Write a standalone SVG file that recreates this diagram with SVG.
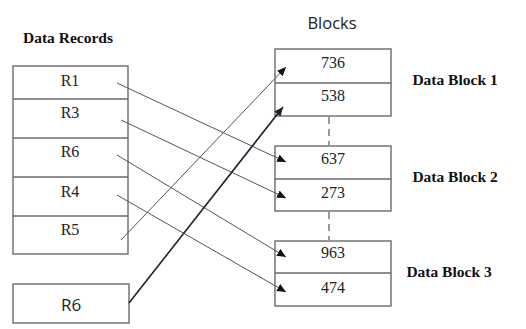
<svg xmlns="http://www.w3.org/2000/svg" width="526" height="329" viewBox="0 0 526 329">
<style>
.box{fill:#fff;stroke:#6a6a6a;stroke-width:1.4}
.div{stroke:#6a6a6a;stroke-width:1.4}
.cell{font-family:"Liberation Serif",serif;font-size:16px;fill:#222;text-anchor:middle}
.lbl{font-family:"Liberation Serif",serif;font-size:15.5px;font-weight:bold;fill:#111;text-anchor:middle}
.sans{font-family:"Open Sans","Liberation Sans",sans-serif;fill:#222;text-anchor:middle}
.conn{stroke:#555;stroke-width:1;fill:none;marker-end:url(#ah)}
.conn2{stroke:#1e2230;stroke-width:1.6;fill:none;marker-end:url(#ah2)}
.dash{stroke:#555;stroke-width:1.2;stroke-dasharray:7,5}
</style>
<defs>
<marker id="ah" markerUnits="userSpaceOnUse" markerWidth="10" markerHeight="8" refX="9" refY="4" orient="auto"><path d="M0,0 L9,4 L0,8 Z" fill="#111"/></marker>
<marker id="ah2" markerUnits="userSpaceOnUse" markerWidth="10" markerHeight="8" refX="9" refY="4" orient="auto"><path d="M0,0 L9,4 L0,8 Z" fill="#1e2230"/></marker>
</defs>
<rect width="526" height="329" fill="#fff"/>
<text class="lbl" x="68" y="43">Data Records</text>
<text class="sans" x="332" y="29" font-size="16.5">Blocks</text>
<g id="records">
<rect class="box" x="13" y="66" width="115" height="188"/>
<line class="div" x1="13" y1="99" x2="128" y2="99"/>
<line class="div" x1="13" y1="138" x2="128" y2="138"/>
<line class="div" x1="13" y1="177" x2="128" y2="177"/>
<line class="div" x1="13" y1="216" x2="128" y2="216"/>
<text class="cell" x="70" y="86">R1</text>
<text class="cell" x="70" y="118">R3</text>
<text class="cell" x="70" y="157">R6</text>
<text class="cell" x="70" y="197">R4</text>
<text class="cell" x="70" y="235">R5</text>
</g>
<g id="r6box">
<rect class="box" x="13" y="284" width="116" height="39"/>
<text class="sans" x="71" y="311" font-size="17">R6</text>
</g>
<g id="block1">
<rect class="box" x="275" y="49" width="116" height="67"/>
<line class="div" x1="275" y1="83" x2="391" y2="83"/>
<text class="cell" x="333" y="68">736</text>
<text class="cell" x="333" y="101">538</text>
<text class="lbl" x="455" y="85">Data Block 1</text>
</g>
<g id="block2">
<rect class="box" x="275" y="146" width="116" height="65"/>
<line class="div" x1="275" y1="179" x2="391" y2="179"/>
<text class="cell" x="333" y="164">637</text>
<text class="cell" x="333" y="198">273</text>
<text class="lbl" x="455" y="182">Data Block 2</text>
</g>
<g id="block3">
<rect class="box" x="275" y="241" width="116" height="65"/>
<line class="div" x1="275" y1="273" x2="391" y2="273"/>
<text class="cell" x="333" y="258">963</text>
<text class="cell" x="333" y="293">474</text>
<text class="lbl" x="449" y="277">Data Block 3</text>
</g>
<g id="connectors">
<line class="dash" x1="329" y1="117" x2="329" y2="145"/>
<line class="dash" x1="329" y1="212" x2="329" y2="240"/>
<line class="conn" x1="117" y1="83" x2="286" y2="162"/>
<line class="conn" x1="121" y1="120" x2="286" y2="198"/>
<line class="conn" x1="117" y1="155" x2="286" y2="257"/>
<line class="conn" x1="117" y1="195" x2="286" y2="292"/>
<line class="conn" x1="121" y1="240" x2="286" y2="67"/>
<line class="conn2" x1="129" y1="303" x2="283" y2="107"/>
</g>
</svg>
